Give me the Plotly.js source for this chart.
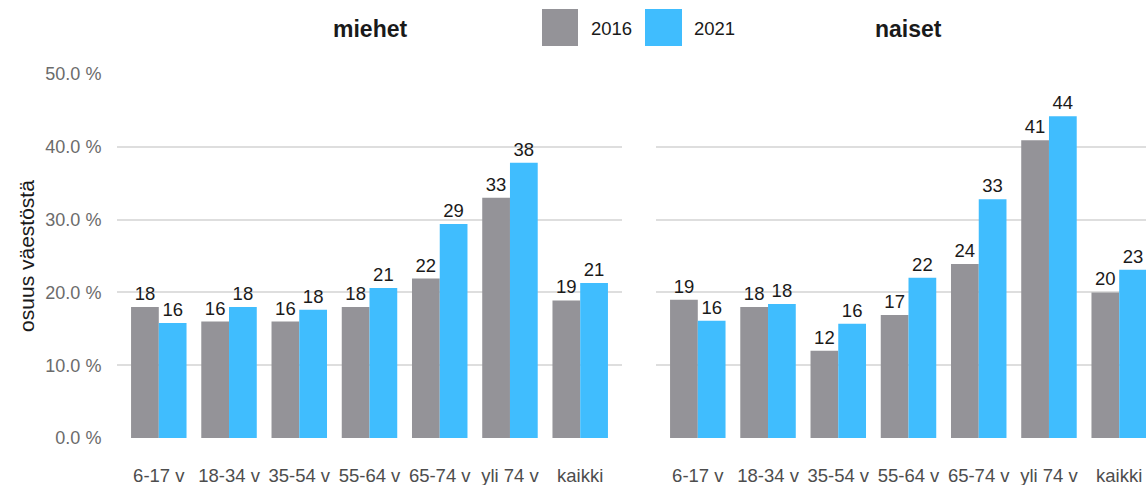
<!DOCTYPE html>
<html>
<head>
<meta charset="utf-8">
<script src="https://cdn.plot.ly/plotly-3.0.1.min.js"></script>
<style>
  html, body { margin: 0; padding: 0; background: #fff; overflow: hidden; }
  #chart { width: 1200px; height: 485px; }
</style>
</head>
<body>
<div id="chart"></div>
<script>
// ---- data ----
const categories = ['6-17 v', '18-34 v', '35-54 v', '55-64 v', '65-74 v', 'yli 74 v', 'kaikki'];
const years = ['2016', '2021'];
const panelTitles = ['miehet', 'naiset'];
const miehet2016 = [18.0, 16.0, 16.0, 18.0, 21.9, 33.0, 18.9];
const miehet2021 = [15.8, 18.0, 17.6, 20.6, 29.4, 37.8, 21.3];
const naiset2016 = [19.0, 18.0, 12.0, 16.9, 23.9, 40.9, 20.0];
const naiset2021 = [16.1, 18.4, 15.7, 22.0, 32.8, 44.2, 23.1];
const yTickValues = [0, 10, 20, 30, 40, 50];
const yTickLabels = ['0.0 %', '10.0 %', '20.0 %', '30.0 %', '40.0 %', '50.0 %'];
const yAxisTitle = 'osuus väestöstä';

// ---- styling ----
const colors = { '2016': '#949398', '2021': '#40bdfe' };
const FONT = '"Liberation Sans", Arial, Helvetica, sans-serif';

// pixel geometry helpers (layout only)
const W = 1200, H = 485;
const ML = 117, MR = W - 1161, MT = 74, MB = 47;
const PW = W - ML - MR, PH = H - MT - MB;
const px = x => (x - ML) / PW;
const py = y => (H - MB - y) / PH;

function barTrace(vals, year, xa, ya) {
  return {
    type: 'bar', x: categories, y: vals, name: year,
    xaxis: xa, yaxis: ya,
    marker: { color: colors[year], line: { width: 0 } },
    text: vals, texttemplate: '%{y:.0f}', textposition: 'outside',
    textfont: { family: FONT, size: 18.5, color: '#1a1a1a' },
    cliponaxis: false, hoverinfo: 'x+y', showlegend: false
  };
}

const data = [
  barTrace(miehet2016, years[0], 'x', 'y'),
  barTrace(miehet2021, years[1], 'x', 'y'),
  barTrace(naiset2016, years[0], 'x2', 'y2'),
  barTrace(naiset2021, years[1], 'x2', 'y2')
];

const xCommon = {
  type: 'category', range: [-0.595, 6.595], showgrid: false, zeroline: false,
  showline: false, ticks: 'outside', ticklen: 21, tickcolor: 'rgba(0,0,0,0)',
  tickfont: { family: FONT, size: 18.5, color: '#4d4d4d' }, fixedrange: true
};
const yCommon = {
  range: [0, 50], tickmode: 'array', tickvals: yTickValues, ticktext: yTickLabels,
  showgrid: true, gridcolor: '#dedede', gridwidth: 2, zeroline: false,
  showline: false, fixedrange: true
};

const layout = {
  width: W, height: H,
  margin: { l: ML, r: MR, t: MT, b: MB, pad: 0 },
  paper_bgcolor: '#ffffff', plot_bgcolor: '#ffffff',
  font: { family: FONT, size: 18, color: '#1a1a1a' },
  barmode: 'group', bargap: 0.21, bargroupgap: 0,
  showlegend: false,
  xaxis: Object.assign({}, xCommon, { domain: [0, px(622)], anchor: 'y' }),
  xaxis2: Object.assign({}, xCommon, { domain: [px(656), 1], anchor: 'y2' }),
  yaxis: Object.assign({}, yCommon, {
    anchor: 'x', ticks: 'outside', ticklen: 11, tickcolor: 'rgba(0,0,0,0)',
    tickfont: { family: FONT, size: 18, color: '#6b6b6b' },
    title: { text: yAxisTitle, font: { family: FONT, size: 21, color: '#1a1a1a' }, standoff: 5 }
  }),
  yaxis2: Object.assign({}, yCommon, { anchor: 'x2', showticklabels: false }),
  annotations: [
    { text: '<b>' + panelTitles[0] + '</b>', xref: 'paper', yref: 'paper',
      x: px(369.5), y: py(29), xanchor: 'center', yanchor: 'middle', showarrow: false,
      font: { family: FONT, size: 23, color: '#1a1a1a' } },
    { text: '<b>' + panelTitles[1] + '</b>', xref: 'paper', yref: 'paper',
      x: px(908.5), y: py(29), xanchor: 'center', yanchor: 'middle', showarrow: false,
      font: { family: FONT, size: 23, color: '#1a1a1a' } },
    { text: years[0], xref: 'paper', yref: 'paper', x: px(589), y: py(28),
      xanchor: 'left', yanchor: 'middle', showarrow: false,
      font: { family: FONT, size: 18.5, color: '#1a1a1a' } },
    { text: years[1], xref: 'paper', yref: 'paper', x: px(692), y: py(28),
      xanchor: 'left', yanchor: 'middle', showarrow: false,
      font: { family: FONT, size: 18.5, color: '#1a1a1a' } }
  ],
  shapes: [
    { type: 'rect', xref: 'paper', yref: 'paper', x0: px(542), x1: px(578), y0: py(46), y1: py(9),
      fillcolor: colors[years[0]], line: { width: 0 } },
    { type: 'rect', xref: 'paper', yref: 'paper', x0: px(645), x1: px(682), y0: py(46), y1: py(9),
      fillcolor: colors[years[1]], line: { width: 0 } }
  ]
};

Plotly.newPlot('chart', data, layout, { displayModeBar: false, staticPlot: true });
</script>
</body>
</html>
